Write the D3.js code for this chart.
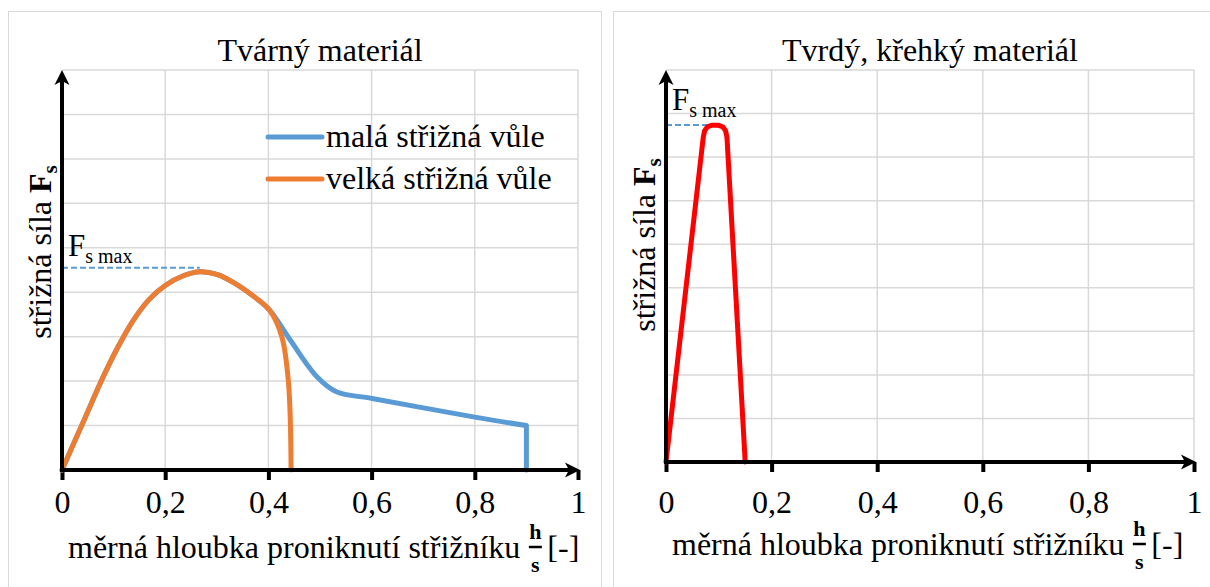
<!DOCTYPE html>
<html>
<head>
<meta charset="utf-8">
<script src="https://cdn.jsdelivr.net/npm/d3@7"></script>
</head>
<body style="margin:0; background:#fff">
<div id="chart"></div>
<script>
var svgWidth = 1210;
var svgHeight = 587;

// data (x = h/s, y = force in grid units)
var xTickValues = [0, 0.2, 0.4, 0.6, 0.8, 1];
var yGridValues = [1, 2, 3, 4, 5, 6, 7, 8, 9];

var malaX = [0, 0.04, 0.08, 0.11, 0.14, 0.17, 0.2, 0.235, 0.268, 0.3, 0.335, 0.37, 0.402, 0.442, 0.494, 0.532, 0.601, 0.8, 0.9, 0.9];
var malaY = [0, 1.05, 2.1, 2.8, 3.4, 3.85, 4.15, 4.37, 4.46, 4.4, 4.2, 3.92, 3.6, 2.93, 2.1, 1.76, 1.61, 1.19, 1.0, 0];

var velkaX = [0, 0.04, 0.08, 0.11, 0.14, 0.17, 0.2, 0.235, 0.268, 0.3, 0.335, 0.37, 0.402, 0.426, 0.439, 0.444];
var velkaY = [0, 1.05, 2.1, 2.8, 3.4, 3.85, 4.15, 4.37, 4.46, 4.4, 4.2, 3.92, 3.6, 3.0, 1.95, 0];

var krehkyX = [0, 0.0705, 0.073, 0.078, 0.086, 0.1, 0.108, 0.113, 0.1155, 0.15];
var krehkyY = [0, 7.45, 7.6, 7.69, 7.73, 7.73, 7.69, 7.6, 7.45, 0];

var fsMaxTvarny = [0.267, 4.55];
var fsMaxKrehky = [0.087, 7.74];

var FONT = '"Liberation Serif"';
var BIG = 32;

var svg = d3.select("#chart")
    .append("svg")
    .attr("width", svgWidth)
    .attr("height", svgHeight);

// panel frames
svg.append("rect").attr("x", 8.5).attr("y", 11.5).attr("width", 593).attr("height", 620)
    .attr("fill", "none").attr("stroke", "#d9d9d9");
svg.append("rect").attr("x", 613.5).attr("y", 11.5).attr("width", 620).attr("height", 620)
    .attr("fill", "none").attr("stroke", "#d9d9d9");

var comma = d => String(d).replace(".", ",");

// text helper: every label gets the serif face inline
function label(sel, size) {
    return sel.append("text").style("font-family", FONT).style("font-size", size + "px");
}

function drawPanel(p) {
    var x = d3.scaleLinear().domain([0, 1]).range([p.left, p.right]);
    var y = d3.scaleLinear().domain([0, 9]).range([p.bottom, p.top]);
    var g = svg.append("g");

    // grid
    g.selectAll("line.hgrid").data(yGridValues).enter().append("line")
        .attr("x1", x(0)).attr("x2", x(1))
        .attr("y1", d => y(d)).attr("y2", d => y(d))
        .attr("stroke", "#d9d9d9").attr("stroke-width", 1.5);
    g.selectAll("line.vgrid").data(xTickValues.slice(1)).enter().append("line")
        .attr("x1", d => x(d)).attr("x2", d => x(d))
        .attr("y1", y(9)).attr("y2", y(0))
        .attr("stroke", "#d9d9d9").attr("stroke-width", 1.5);

    // title
    label(g, BIG).attr("x", (x(0) + x(1)) / 2).attr("y", 61)
        .attr("text-anchor", "middle").text(p.title);

    // x axis ticks + labels
    var bottomAxis = d3.axisBottom(x).tickValues(xTickValues).tickFormat(comma)
        .tickSize(10).tickPadding(p.tickPad);
    var ax = g.append("g").attr("transform", `translate(0,${p.bottom})`).call(bottomAxis);
    ax.attr("font-family", null).attr("font-size", null);
    ax.select(".domain").remove();
    ax.selectAll(".tick line").attr("stroke", "#000").attr("stroke-width", 4);
    ax.selectAll(".tick text").style("font-family", FONT).style("font-size", BIG + "px").attr("fill", "#000");

    // Fs max dashed line
    g.append("line")
        .attr("x1", x(0)).attr("x2", x(p.fsMax[0]))
        .attr("y1", y(p.fsMax[1])).attr("y2", y(p.fsMax[1]))
        .attr("stroke", "#5b9bd5").attr("stroke-width", 2).attr("stroke-dasharray", "6,3");
    var fl = label(g, 31).attr("x", x(0) + p.fsDx).attr("y", y(p.fsMax[1]) - p.fsDy);
    fl.append("tspan").text("F");
    fl.append("tspan").attr("dy", 7).style("font-size", "20px").text("s max");

    // data lines (last tailN points joined straight)
    p.series.forEach(function(s) {
        var pts = s.xs.map((v, i) => [v, s.ys[i]]);
        var head = pts.slice(0, pts.length - s.tailN);
        var tail = pts.slice(pts.length - s.tailN);
        var line = d3.line().x(d => x(d[0])).y(d => y(d[1])).curve(s.curve);
        var d = line(head) + tail.map(t => `L${x(t[0])},${y(t[1])}`).join("");
        g.append("path").attr("d", d)
            .attr("fill", "none").attr("stroke", s.color).attr("stroke-width", 5)
            .attr("stroke-linejoin", "round").attr("stroke-linecap", "round");
    });

    // axes with arrows
    g.append("line").attr("x1", x(0)).attr("x2", x(1) - 8)
        .attr("y1", y(0)).attr("y2", y(0)).attr("stroke", "#000").attr("stroke-width", 4);
    g.append("line").attr("x1", x(0)).attr("x2", x(0))
        .attr("y1", y(0) + 2).attr("y2", y(9) + 8).attr("stroke", "#000").attr("stroke-width", 4);
    var tx = x(1) + 2, ty = y(0);
    g.append("path").attr("d", `M${tx},${ty} L${tx - 15},${ty - 7.5} L${tx - 11},${ty} L${tx - 15},${ty + 7.5} Z`)
        .attr("fill", "#000");
    var vx = x(0), vy = y(9);
    g.append("path").attr("d", `M${vx},${vy} L${vx - 7.5},${vy + 15} L${vx},${vy + 11} L${vx + 7.5},${vy + 15} Z`)
        .attr("fill", "#000");

    // y label
    var yl = label(g, BIG)
        .attr("transform", `translate(${x(0) - 11},${p.yLabelCenter}) rotate(-90)`)
        .attr("text-anchor", "middle");
    yl.append("tspan").text("střižná síla ");
    yl.append("tspan").style("font-weight", "bold").text("F");
    yl.append("tspan").attr("dy", 6).style("font-weight", "bold").style("font-size", "21px").text("s");

    // x label with h/s fraction
    var xl = label(g, BIG).attr("x", x(0) + 6).attr("y", p.xLabelY)
        .text("měrná hloubka proniknutí střižníku");
    var len = xl.node().getComputedTextLength();
    var fx = x(0) + 6 + len + 15;
    label(g, 22).attr("x", fx).attr("y", p.xLabelY - 19).attr("text-anchor", "middle")
        .style("font-weight", "bold").text("h");
    g.append("line").attr("x1", fx - 6.5).attr("x2", fx + 6.5)
        .attr("y1", p.xLabelY - 11).attr("y2", p.xLabelY - 11)
        .attr("stroke", "#000").attr("stroke-width", 2.5);
    label(g, 22).attr("x", fx).attr("y", p.xLabelY + 14).attr("text-anchor", "middle")
        .style("font-weight", "bold").text("s");
    label(g, BIG).attr("x", fx + 12).attr("y", p.xLabelY).text("[-]");

    return g;
}

var left = drawPanel({
    title: "Tvárný materiál",
    left: 62, right: 578, bottom: 470, top: 70,
    tickPad: 10,
    fsMax: fsMaxTvarny, fsDx: 6, fsDy: 12,
    yLabelCenter: 252, xLabelY: 558,
    series: [
        { xs: malaX, ys: malaY, color: "#5b9bd5", curve: d3.curveCatmullRom.alpha(0.5), tailN: 1 },
        { xs: velkaX, ys: velkaY, color: "#ed7d31", curve: d3.curveCatmullRom.alpha(0.5), tailN: 0 }
    ]
});

drawPanel({
    title: "Tvrdý, křehký materiál",
    left: 666, right: 1194, bottom: 462, top: 70,
    tickPad: 18,
    fsMax: fsMaxKrehky, fsDx: 6, fsDy: 15,
    yLabelCenter: 245, xLabelY: 555,
    series: [
        { xs: krehkyX, ys: krehkyY, color: "#ff0000", curve: d3.curveLinear, tailN: 0 }
    ]
});

// legend (left panel)
var legend = [
    { name: "malá střižná vůle", color: "#5b9bd5", y: 137 },
    { name: "velká střižná vůle", color: "#ed7d31", y: 179 }
];
var lg = left.selectAll("g.legend").data(legend).enter().append("g");
lg.append("line").attr("x1", 268).attr("x2", 322)
    .attr("y1", d => d.y).attr("y2", d => d.y)
    .attr("stroke", d => d.color).attr("stroke-width", 5).attr("stroke-linecap", "round");
label(lg, BIG).attr("x", 326).attr("y", d => d.y + 10).text(d => d.name);
</script>
</body>
</html>
